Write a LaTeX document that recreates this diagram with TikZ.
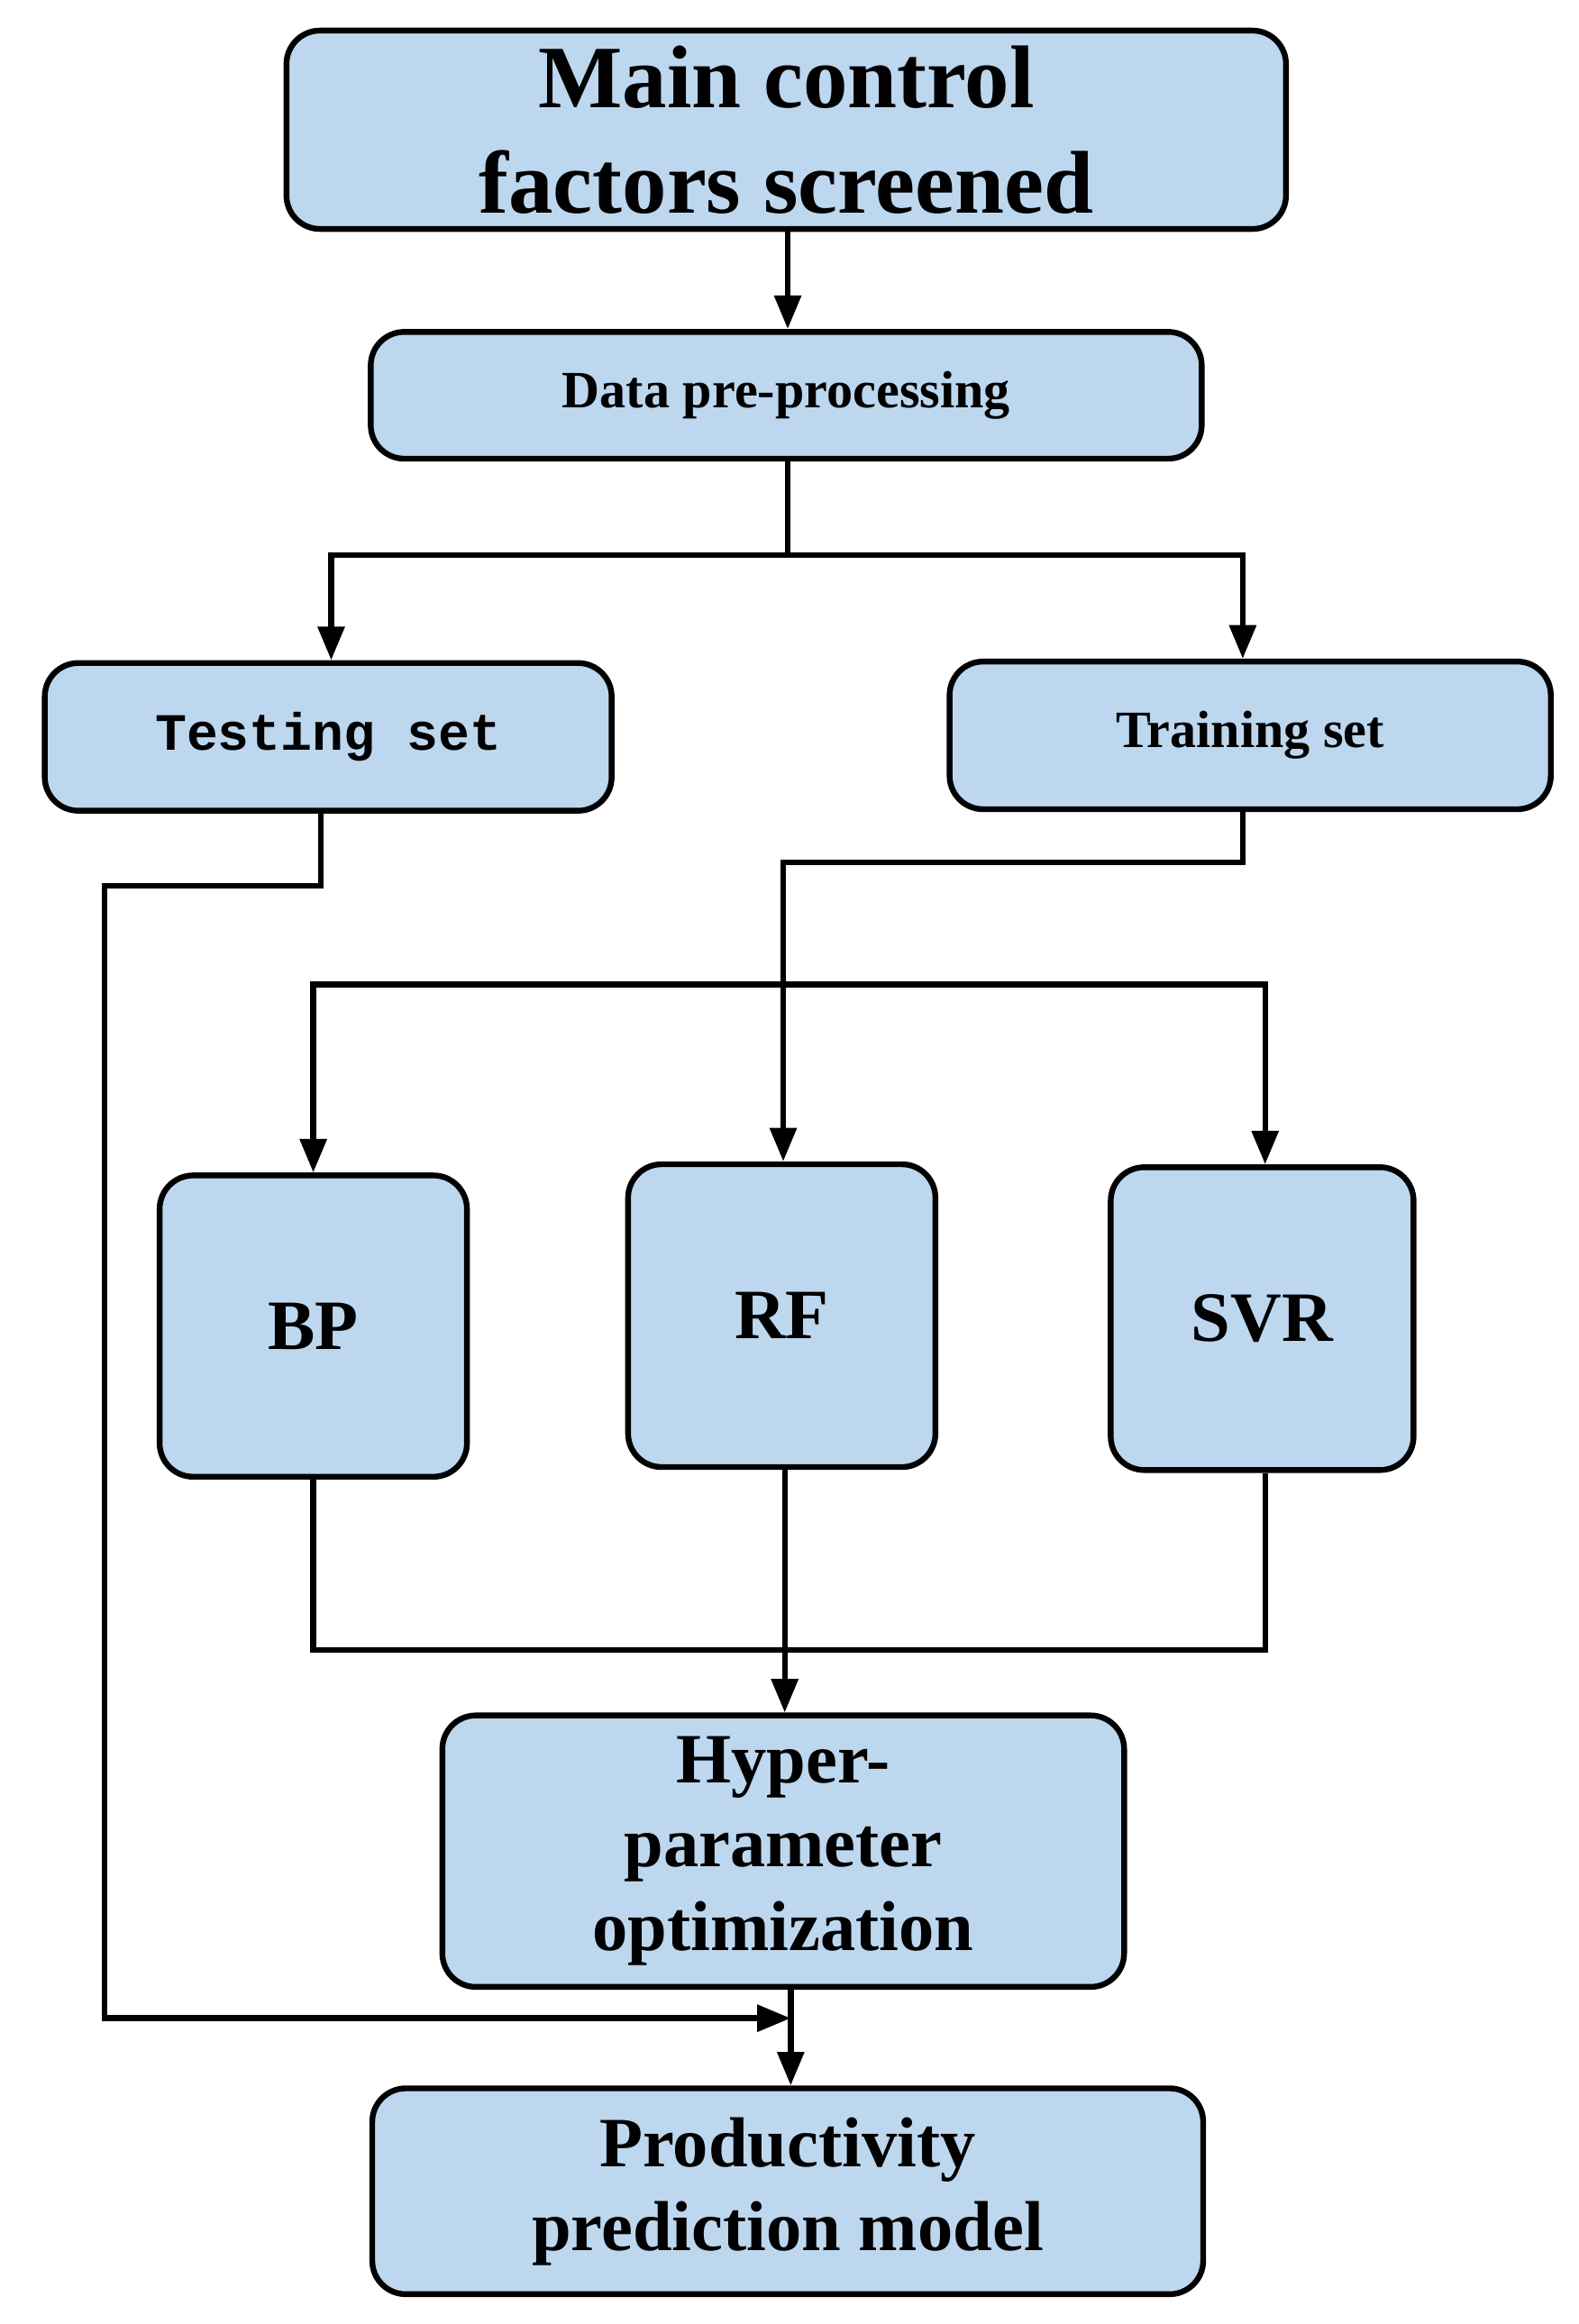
\documentclass[tikz,border=0pt]{standalone}
\usepackage{fontspec}
\setmainfont{Liberation Serif}
\newfontfamily\monof{Liberation Mono}
\usetikzlibrary{arrows.meta}
\definecolor{boxblue}{HTML}{BDD7EE}
\begin{document}
\begin{tikzpicture}[x=0.02cm,y=-0.02cm,
  box/.style={draw=black,line width=2.2pt,fill=boxblue,rounded corners=0.45cm,align=center,inner sep=0pt,font=\bfseries},
  ln/.style={line width=2.2pt},
  ar/.style={line width=2.2pt,-{Triangle[length=0.45cm,width=0.35cm]}}]
\useasboundingbox (0,0) rectangle (1058,1558);
\node[box,minimum width=670*0.02cm,minimum height=133*0.02cm,font=\bfseries\fontsize{34}{40}\selectfont] (main) at (527,87) {Main control\\factors screened};
\node[box,minimum width=557*0.02cm,minimum height=85*0.02cm,font=\bfseries\fontsize{20}{24}\selectfont] (data) at (527,265) {Data pre-processing};
\node[box,minimum width=380*0.02cm,minimum height=99*0.02cm,font=\monof\bfseries\fontsize{20}{24}\selectfont] (test) at (220,494) {Testing set};
\node[box,minimum width=403*0.02cm,minimum height=99*0.02cm,font=\bfseries\fontsize{20}{24}\selectfont] (train) at (838,493) {Training set};
\node[box,minimum width=206*0.02cm,minimum height=202*0.02cm,font=\bfseries\fontsize{27}{32}\selectfont] (bp) at (210,889) {BP};
\node[box,minimum width=206*0.02cm,minimum height=203*0.02cm,font=\bfseries\fontsize{27}{32}\selectfont] (rf) at (524,882) {RF};
\node[box,minimum width=203*0.02cm,minimum height=203*0.02cm,font=\bfseries\fontsize{27}{32}\selectfont] (svr) at (846,884) {SVR};
\node[box,minimum width=457*0.02cm,minimum height=182*0.02cm,font=\bfseries\fontsize{27}{32}\selectfont] (hyp) at (525,1241) {Hyper-\\parameter\\optimization};
\node[box,minimum width=557*0.02cm,minimum height=138*0.02cm,font=\bfseries\fontsize{27}{32}\selectfont] (prod) at (528,1469) {Productivity\\prediction model};
\coordinate (s1) at (528,372);
\coordinate (m1) at (525,660);
\coordinate (j1) at (526,1106);
\coordinate (t1) at (530,1353);
\draw[ar] (main.south -| 528,0) -- (data.north -| 528,0);
\draw[ln] (data.south -| 528,0) -- (s1);
\draw[ar] (s1) -- (222,372) -- (test.north -| 222,0);
\draw[ar] (s1) -- (833,372) -- (train.north -| 833,0);
\draw[ar] (train.south -| 833,0) -- (833,578) -- (525,578) -- (rf.north -| 525,0);
\draw[ar] (m1) -- (210,660) -- (bp.north -| 210,0);
\draw[ar] (m1) -- (848,660) -- (svr.north -| 848,0);
\draw[ln] (bp.south -| 210,0) -- (210,1106) -- (848,1106) -- (svr.south -| 848,0);
\draw[ar] (rf.south -| 526,0) -- (hyp.north -| 526,0);
\draw[ar] (test.south -| 215,0) -- (215,594) -- (70,594) -- (70,1353) -- (t1);
\draw[ar] (hyp.south -| 530,0) -- (prod.north -| 530,0);
\end{tikzpicture}
\end{document}
